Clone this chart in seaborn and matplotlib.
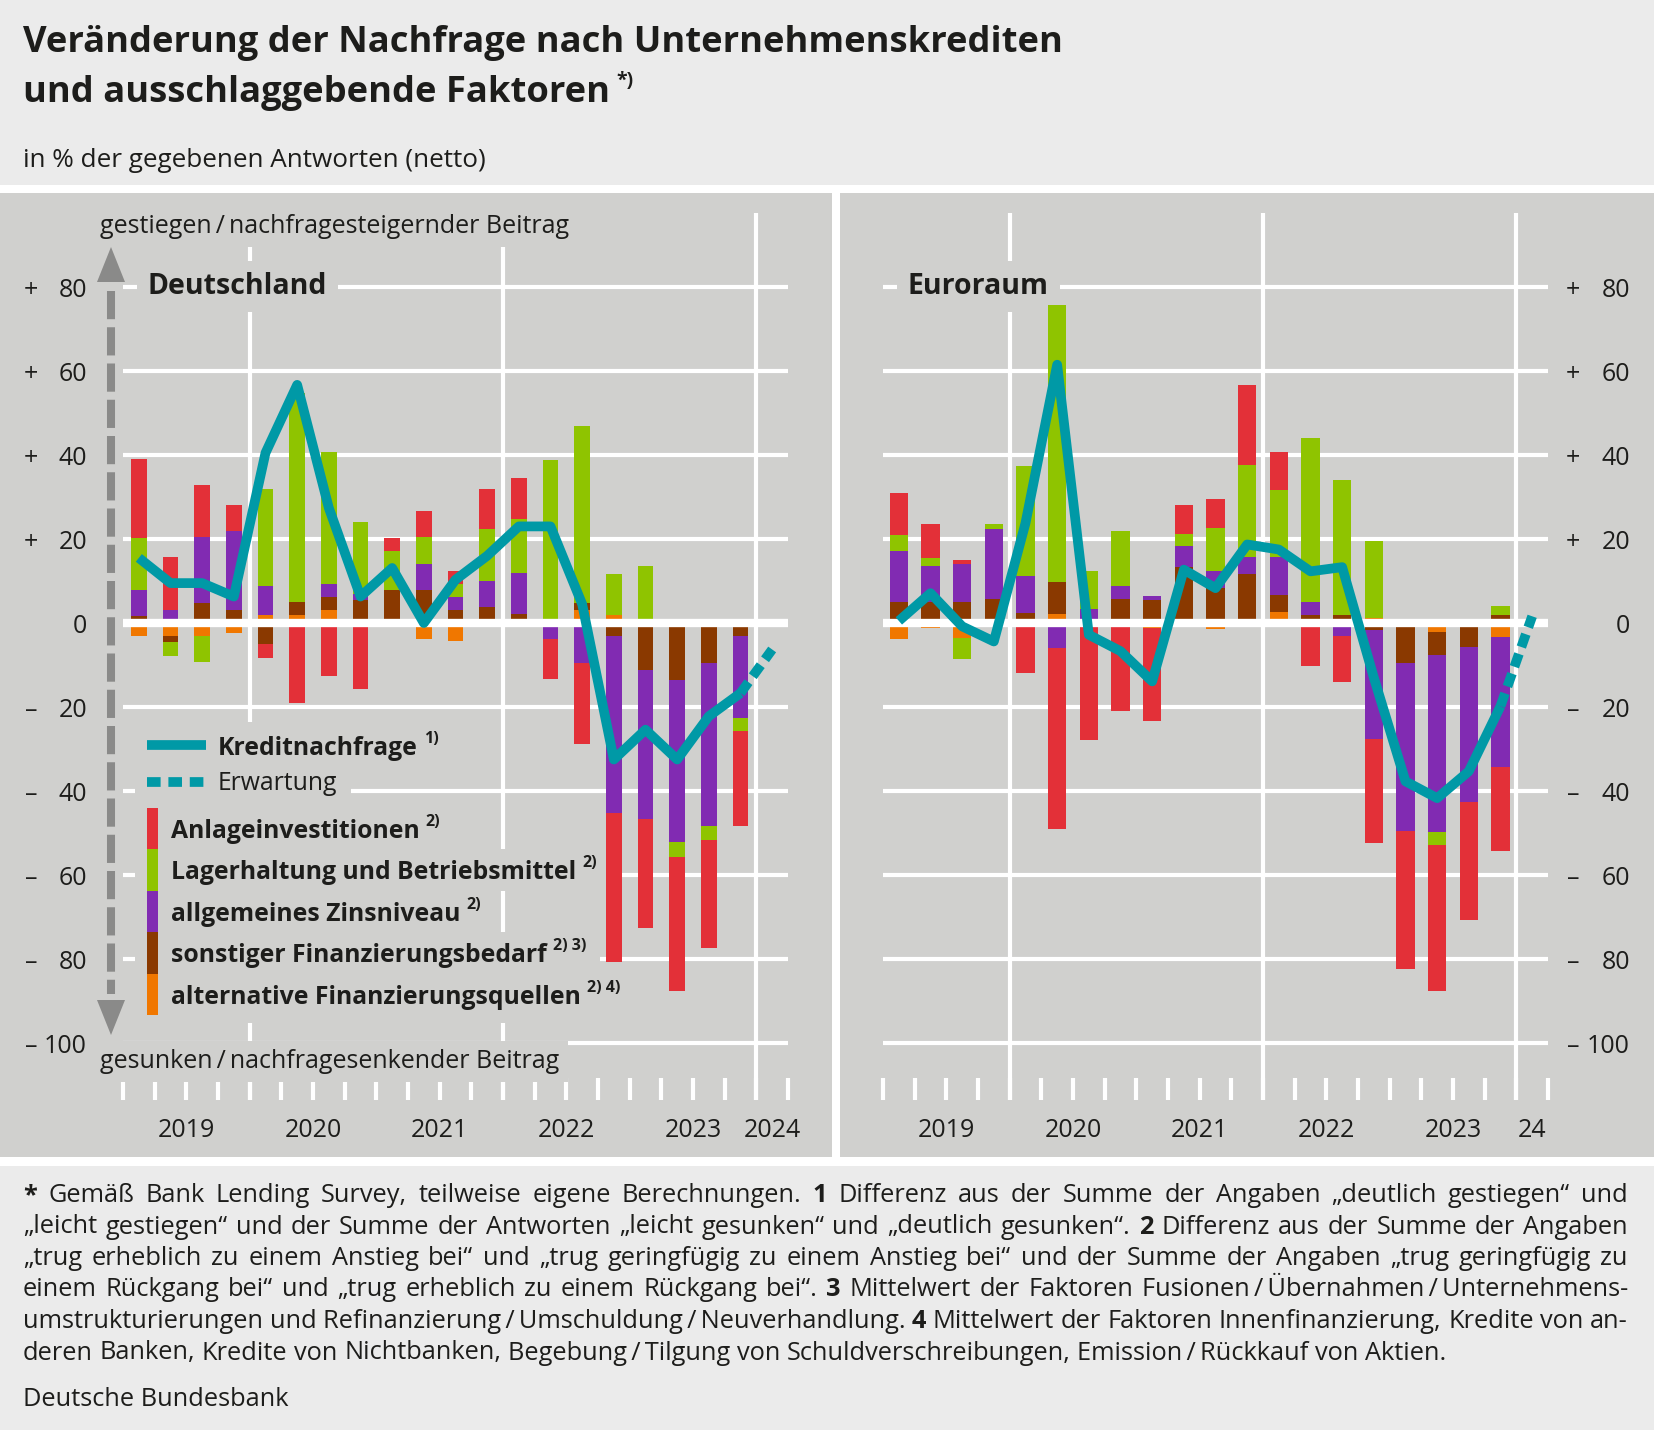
import numpy as np
import seaborn as sns
import matplotlib.pyplot as plt
from matplotlib.patches import Rectangle, Polygon
from matplotlib.lines import Line2D
from matplotlib.transforms import Affine2D, blended_transform_factory

# quarters 2019 Q1 ... 2023 Q4, expectation for 2024 Q1
quarters = np.arange(20)
quarter_exp = 20

years_de = ["2019", "2020", "2021", "2022", "2023", "2024"]
years_ea = ["2019", "2020", "2021", "2022", "2023", "24"]
year_pos = [1.5, 5.5, 9.5, 13.5, 17.5, 20]
ytick_values = list(range(-100, 81, 20))

# Deutschland
de_anlage = [18.8, 12.4, 12.5, 6.4, -3.4, -19.0, -12.5, -15.6, 3.0, 6.2,
             3.2, 9.4, 9.7, -9.5, -19.3, -35.4, -25.9, -32.1, -25.8, -22.6]
de_lager = [12.4, -3.2, -6.4, 0.0, 23.3, 49.8, 31.2, 17.1, 9.4, 6.3,
            3.0, 12.6, 12.9, 38.7, 42.0, 9.7, 13.5, -3.4, -3.2, -3.3]
de_zins = [6.1, 3.2, 15.6, 18.6, 6.7, 0.0, 3.2, 1.5, 0.0, 6.3,
           3.3, 6.2, 9.7, -3.8, -9.5, -42.0, -35.6, -38.7, -38.9, -19.3]
de_sonst = [1.7, -1.4, 4.8, 3.2, -4.9, 3.0, 3.0, 5.4, 7.8, 7.8,
            3.0, 3.7, 2.2, 0.0, 1.6, -3.2, -11.1, -13.5, -9.5, -3.2]
de_altern = [-3.0, -3.2, -3.0, -2.4, 2.0, 2.0, 3.2, 0.0, -0.7, -3.7,
             -4.4, 0.0, 0.0, 0.0, 3.2, 2.0, 0.0, 0.0, 1.0, 0.0]
de_kredit = [15.5, 9.5, 9.5, 6.3, 40.5, 56.7, 27.4, 6.3, 13.1, 0.0,
             10.3, 16.0, 23.0, 23.0, 4.5, -32.5, -25.4, -32.5, -22.2, -16.7]
de_erwartung = -6.3

# Euroraum
ea_anlage = [10.0, 8.1, 1.0, 0.0, -11.9, -43.0, -27.9, -21.0, -22.1, 6.9,
             6.9, 18.9, 8.9, -10.3, -10.9, -24.9, -32.8, -34.9, -28.0, -20.0]
ea_lager = [3.9, 2.0, -5.0, 1.1, 26.2, 66.1, 9.1, 13.1, 0.0, 3.0,
            10.1, 22.1, 16.1, 39.0, 32.0, 18.4, 0.0, -3.0, 0.0, 2.0]
ea_zins = [12.1, 8.5, 9.1, 16.9, 8.9, -6.0, 2.6, 3.1, 1.1, 5.0,
           4.2, 3.9, 9.0, 3.0, -3.2, -25.9, -40.1, -42.1, -37.0, -31.0]
ea_sonst = [5.0, 5.0, 5.0, 5.6, 2.4, 7.6, 0.0, 5.8, 5.4, 13.3,
            8.3, 11.7, 4.0, 2.0, 2.0, -1.6, -8.5, -5.5, -5.6, 2.0]
ea_altern = [-3.7, -1.2, -3.6, -0.8, 0.0, 2.1, 0.8, 0.0, -1.2, 0.0,
             -1.5, 0.0, 2.6, 0.0, 0.0, 1.2, -1.0, -2.2, 0.0, -3.4]
ea_kredit = [0.5, 7.1, -0.8, -4.4, 23.8, 61.5, -2.8, -6.7, -13.9, 12.7,
             8.3, 18.7, 17.5, 12.3, 13.3, -13.0, -37.7, -41.7, -35.3, -19.8]
ea_erwartung = 1.6

legend_labels = ["Anlageinvestitionen", "Lagerhaltung und Betriebsmittel",
                 "allgemeines Zinsniveau", "sonstiger Finanzierungsbedarf",
                 "alternative Finanzierungsquellen"]
legend_sups = ["2)", "2)", "2)", "2) 3)", "2) 4)"]

footnote = [
    "* Gemäß Bank Lending Survey, teilweise eigene Berechnungen. 1 Differenz aus der Summe der Angaben „deutlich gestiegen“ und",
    "„leicht gestiegen“ und der Summe der Antworten „leicht gesunken“ und „deutlich gesunken“. 2 Differenz aus der Summe der Angaben",
    "„trug erheblich zu einem Anstieg bei“ und „trug geringfügig zu einem Anstieg bei“ und der Summe der Angaben „trug geringfügig zu",
    "einem Rückgang bei“ und „trug erheblich zu einem Rückgang bei“. 3 Mittelwert der Faktoren Fusionen/Übernahmen/Unternehmens-",
    "umstrukturierungen und Refinanzierung/Umschuldung/Neuverhandlung. 4 Mittelwert der Faktoren Innenfinanzierung, Kredite von an-",
    "deren Banken, Kredite von Nichtbanken, Begebung/Tilgung von Schuldverschreibungen, Emission/Rückkauf von Aktien.",
]

# colours
TEAL = "#0099a6"
RED = "#e33038"
GREEN = "#8fc400"
PURPLE = "#812bb2"
BROWN = "#8a3900"
ORANGE = "#f07700"
PANEL = "#d0d0ce"
OUTER = "#ebebeb"
TEXT = "#1d1d1b"
ARROW = "#8a8a89"

sns.set_theme(style="white")
plt.rcParams["font.family"] = ["Open Sans", "DejaVu Sans"]

W, H = 1654, 1430
fig = plt.figure(figsize=(W / 100, H / 100), dpi=100)
fig.patch.set_facecolor(OUTER)
# pixel coordinates, origin top left
px = Affine2D().scale(1 / W, -1 / H).translate(0, 1) + fig.transFigure
renderer = fig.canvas.get_renderer()

fig.add_artist(Rectangle((0, 185), W, 981, transform=px, fc="white", ec="none", zorder=-10))
fig.add_artist(Rectangle((0, 193), 832, 964, transform=px, fc=PANEL, ec="none", zorder=-9))
fig.add_artist(Rectangle((840, 193), W - 840, 964, transform=px, fc=PANEL, ec="none", zorder=-9))


def make_axes(x0, x1, y0=213, y1=1100):
    return fig.add_axes([x0 / W, 1 - y1 / H, (x1 - x0) / W, (y1 - y0) / H])


def draw_panel(ax, parts, kredit, erwartung, width, years):
    ax.patch.set_visible(False)
    for s in ax.spines.values():
        s.set_visible(False)
    ax.set_yticks([])

    for v in ytick_values:
        if v != 0:
            ax.axhline(v, color="white", lw=3, zorder=1)
    for xv in [3.5, 11.5, 19.5]:
        ax.axvline(xv, color="white", lw=3, zorder=1)
    ax.axhline(0, color="white", lw=6, zorder=3)

    pos = np.zeros(len(quarters))
    neg = np.zeros(len(quarters))
    for vals, col in parts:
        v = np.asarray(vals, float)
        base = np.where(v >= 0, pos, neg)
        ax.bar(quarters, v, width=width, bottom=base, color=col, linewidth=0, zorder=2)
        pos += np.clip(v, 0, None)
        neg += np.clip(v, None, 0)

    sns.lineplot(x=quarters, y=kredit, ax=ax, color=TEAL, linewidth=7, zorder=4,
                 legend=False, solid_joinstyle="round", solid_capstyle="butt")
    ax.plot([quarters[-1], quarter_exp], [kredit[-1], erwartung], color=TEAL, lw=7,
            linestyle=(0, (1.4, 0.75)), zorder=4, dash_capstyle="butt")

    ax.xaxis.remove_overlapping_locs = False
    ax.set_xticks(np.arange(-0.5, 20.51, 1.0))
    ax.set_xticklabels([])
    ax.tick_params(axis="x", which="major", direction="in", length=15.8, width=3,
                   color="white", bottom=True, top=False)
    ax.set_xticks(year_pos, labels=years, minor=True)
    ax.tick_params(axis="x", which="minor", length=0, pad=13, labelsize=18,
                   labelcolor=TEXT)
    ax.set_xlim(-0.5, 20.5)
    ax.set_ylim(-113.57, 97.62)


def y_labels(ax, sign_x, num_x):
    tr = blended_transform_factory(px, ax.transData)
    for v in ytick_values:
        sign = "+" if v > 0 else ("\u2013" if v < 0 else "")
        ax.text(num_x, v, str(abs(v)), transform=tr, ha="right", va="center_baseline",
                fontsize=18, color=TEXT, clip_on=False)
        if sign:
            ax.text(sign_x, v, sign, transform=tr, ha="center", va="center_baseline",
                    fontsize=18, color=TEXT, clip_on=False)


ax_de = make_axes(123, 788)
ax_ea = make_axes(883, 1548)

draw_panel(ax_de, [(de_altern, ORANGE), (de_sonst, BROWN), (de_zins, PURPLE),
                   (de_lager, GREEN), (de_anlage, RED)],
           de_kredit, de_erwartung, 0.5, years_de)
draw_panel(ax_ea, [(ea_altern, ORANGE), (ea_sonst, BROWN), (ea_zins, PURPLE),
                   (ea_lager, GREEN), (ea_anlage, RED)],
           ea_kredit, ea_erwartung, 0.58, years_ea)

y_labels(ax_de, 31, 87)
y_labels(ax_ea, 1573, 1630)

mask = dict(facecolor=PANEL, edgecolor="none", pad=6)
ax_de.text(100, 233, "gestiegen\u2009/\u2009nachfragesteigernder Beitrag", transform=px,
           fontsize=18, color=TEXT, va="baseline", zorder=1.5, clip_on=False, bbox=mask)
ax_de.text(100, 1068, "gesunken\u2009/\u2009nachfragesenkender Beitrag", transform=px,
           fontsize=18, color=TEXT, va="baseline", zorder=1.5, clip_on=False, bbox=mask)
ax_de.text(148, 294, "Deutschland", transform=px, fontsize=20.5, fontweight="bold",
           color=TEXT, va="baseline", zorder=1.5, clip_on=False,
           bbox=dict(facecolor=PANEL, edgecolor="none", pad=8))
ax_ea.text(908, 294, "Euroraum", transform=px, fontsize=20.5, fontweight="bold",
           color=TEXT, va="baseline", zorder=1.5, clip_on=False,
           bbox=dict(facecolor=PANEL, edgecolor="none", pad=8))

# dashed arrow left of the German panel
fig.add_artist(Line2D([111, 111], [291, 994], transform=px, color=ARROW, lw=5.8,
                      dashes=(3.5, 1.0), zorder=1))
fig.add_artist(Polygon([[111, 247], [97, 282], [125, 282]], closed=True, transform=px,
                       fc=ARROW, ec="none", zorder=1))
fig.add_artist(Polygon([[97, 1000], [125, 1000], [111, 1035]], closed=True, transform=px,
                       fc=ARROW, ec="none", zorder=1))


def label(ax, x, y, text, sup, weight):
    t = ax.text(x, y, text, transform=px, fontsize=17.8, fontweight=weight, color=TEXT,
                va="baseline", zorder=5, clip_on=False)
    right = t.get_window_extent(renderer).x1
    if sup:
        s = ax.text(right + 6, y - 12, sup, transform=px, fontsize=11.5, fontweight="bold",
                    color=TEXT, va="baseline", zorder=5, clip_on=False)
        right = s.get_window_extent(renderer).x1
    return right


# legend
r = label(ax_de, 218, 755, "Kreditnachfrage", "1)", "bold")
ax_de.add_artist(Rectangle((135, 722), r + 14 - 135, 42, transform=px, fc=PANEL, ec="none", zorder=1.5))
ax_de.add_artist(Line2D([147, 206], [745, 745], transform=px, color=TEAL, lw=7,
                        solid_capstyle="butt", zorder=5))
r = label(ax_de, 218, 790, "Erwartung", None, "normal")
ax_de.add_artist(Rectangle((135, 764), r + 14 - 135, 44, transform=px, fc=PANEL, ec="none", zorder=1.5))
ax_de.add_artist(Line2D([147, 206], [782, 782], transform=px, color=TEAL, lw=7,
                        linestyle=(0, (1.4, 0.8)), dash_capstyle="butt", zorder=5))
seg = (1015 - 808) / 5
for i, (txt, sup, col) in enumerate(zip(legend_labels, legend_sups,
                                        [RED, GREEN, PURPLE, BROWN, ORANGE])):
    top = 808 + i * seg
    r = label(ax_de, 171, 838 + i * seg, txt, sup, "bold")
    h = seg if i < 4 else seg + 8
    ax_de.add_artist(Rectangle((135, top), r + 14 - 135, h, transform=px, fc=PANEL,
                               ec="none", zorder=1.5))
    ax_de.add_artist(Rectangle((147, top), 11, seg, transform=px, fc=col, ec="none", zorder=5))

# title block
fig.text(23, 52, "Veränderung der Nachfrage nach Unternehmenskrediten", transform=px,
         fontsize=26.2, fontweight="bold", color=TEXT, va="baseline")
t = fig.text(23, 102, "und ausschlaggebende Faktoren", transform=px,
             fontsize=26.2, fontweight="bold", color=TEXT, va="baseline")
rt = t.get_window_extent(renderer).x1
fig.text(rt + 6, 86, "*)", transform=px, fontsize=14, fontweight="bold", color=TEXT,
         va="baseline")
fig.text(23, 167, "in % der gegebenen Antworten (netto)", transform=px, fontsize=18.8,
         color=TEXT, va="baseline")

# footnote, justified
FN_SIZE = 18.3
BOLD = {"*", "1", "2", "3", "4"}


def width_of(s, weight="normal"):
    t = fig.text(0, 0, s, fontsize=FN_SIZE, fontweight=weight)
    w = t.get_window_extent(renderer).width
    t.remove()
    return w


space = width_of("a a") - width_of("aa")
x_left, x_right = 23, 1628
for i, line in enumerate(footnote):
    words = line.replace("/", "\u2009/\u2009").split(" ")
    weights = ["bold" if w in BOLD else "normal" for w in words]
    widths = [width_of(w, wt) for w, wt in zip(words, weights)]
    if i < len(footnote) - 1:
        gap = (x_right - x_left - sum(widths)) / (len(words) - 1)
    else:
        gap = space
    x = x_left
    y = 1202 + i * 31.5
    for w, wt, wd in zip(words, weights, widths):
        fig.text(x, y, w, transform=px, fontsize=FN_SIZE, fontweight=wt, color=TEXT,
                 va="baseline")
        x += wd + gap

fig.text(23, 1406, "Deutsche Bundesbank", transform=px, fontsize=FN_SIZE, color=TEXT,
         va="baseline")

fig.savefig("out.png", dpi=100, facecolor=fig.get_facecolor())
